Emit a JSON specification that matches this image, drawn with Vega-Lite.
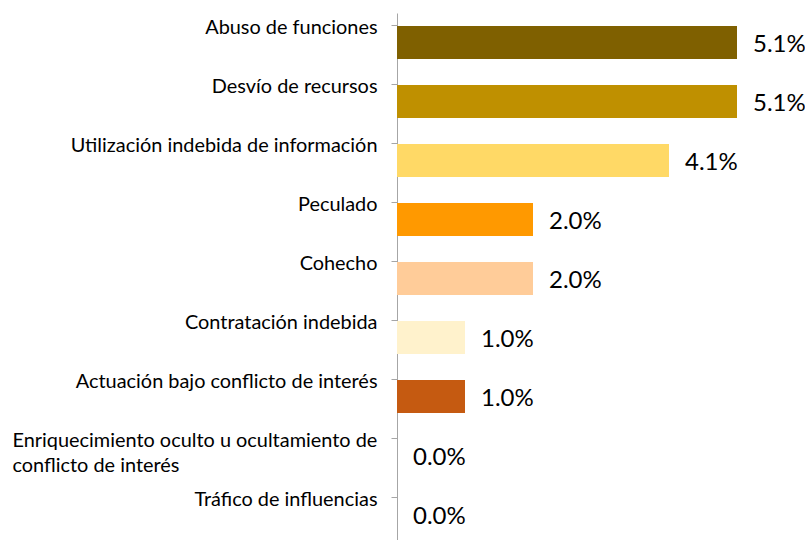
{
  "$schema": "https://vega.github.io/schema/vega-lite/v6.json",
  "width": 400,
  "height": 531,
  "autosize": "none",
  "padding": {"left": 397, "top": 13, "right": 8, "bottom": 0},
  "background": "white",
  "config": {"view": {"stroke": null}},
  "data": {
    "values": [
      {"cat": "Abuso de funciones", "v": 0.0510},
      {"cat": "Desvío de recursos", "v": 0.0510},
      {"cat": "Utilización indebida de información", "v": 0.0408},
      {"cat": "Peculado", "v": 0.0204},
      {"cat": "Cohecho", "v": 0.0204},
      {"cat": "Contratación indebida", "v": 0.0102},
      {"cat": "Actuación bajo conflicto de interés", "v": 0.0102},
      {"cat": "Enriquecimiento oculto u ocultamiento de conflicto de interés", "v": 0},
      {"cat": "Tráfico de influencias", "v": 0}
    ]
  },
  "encoding": {
    "y": {
      "field": "cat",
      "type": "nominal",
      "sort": null,
      "scale": {"paddingInner": 0.44, "paddingOuter": 0.22},
      "axis": {
        "title": null,
        "domainColor": "#A6A6A6",
        "tickColor": "#A6A6A6",
        "tickSize": 6,
        "bandPosition": 0,
        "labelFont": "Lato",
        "labelFontSize": 19.9,
        "labelColor": "#000000",
        "labelPadding": {"condition": {"test": "datum.value == 'Enriquecimiento oculto u ocultamiento de conflicto de interés'", "value": 379}, "value": 14},
        "labelAlign": {"condition": {"test": "datum.value == 'Enriquecimiento oculto u ocultamiento de conflicto de interés'", "value": "left"}, "value": "right"},
        "labelLimit": 500,
        "labelLineHeight": 25,
        "labelBaseline": "middle",
        "labelOffset": -15,
        "labelExpr": "datum.value == 'Enriquecimiento oculto u ocultamiento de conflicto de interés' ? ['Enriquecimiento oculto u ocultamiento de', 'conflicto de interés'] : datum.value"
      }
    },
    "x": {
      "field": "v",
      "type": "quantitative",
      "scale": {"domain": [0, 0.06], "nice": false},
      "axis": null
    }
  },
  "layer": [
    {
      "mark": {"type": "bar"},
      "encoding": {
        "color": {
          "field": "cat",
          "type": "nominal",
          "legend": null,
          "scale": {
            "domain": ["Abuso de funciones", "Desvío de recursos", "Utilización indebida de información", "Peculado", "Cohecho", "Contratación indebida", "Actuación bajo conflicto de interés", "Enriquecimiento oculto u ocultamiento de conflicto de interés", "Tráfico de influencias"],
            "range": ["#7F6000", "#BF9000", "#FFD966", "#FF9900", "#FFCC99", "#FFF2CC", "#C55A11", "#A5A5A5", "#5B9BD5"]
          }
        }
      }
    },
    {
      "mark": {"type": "text", "align": "left", "baseline": "middle", "dx": 16, "dy": 2, "font": "Lato", "fontSize": 24, "color": "#000000"},
      "encoding": {"text": {"field": "v", "type": "quantitative", "format": ".1%"}}
    }
  ]
}
